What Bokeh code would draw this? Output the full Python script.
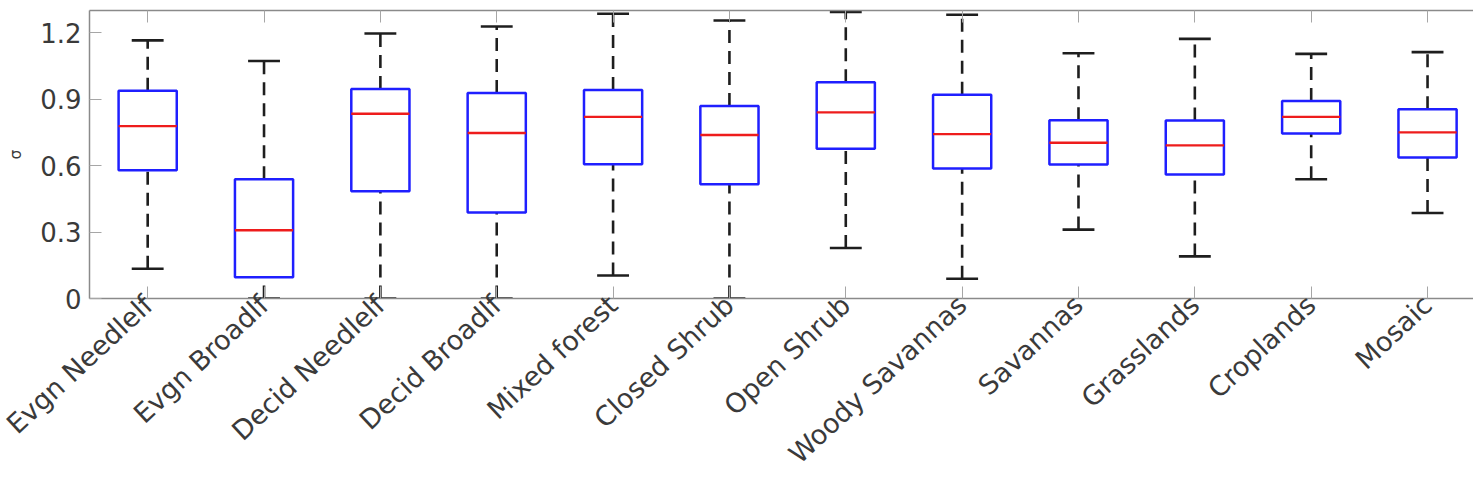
from math import radians
from bokeh.plotting import figure
from bokeh.models import Range1d, FixedTicker, LinearAxis, ColumnDataSource
from bokeh.embed import file_html
from bokeh.resources import INLINE

categories = ["Evgn Needlelf", "Evgn Broadlf", "Decid Needlelf", "Decid Broadlf",
              "Mixed forest", "Closed Shrub", "Open Shrub", "Woody Savannas",
              "Savannas", "Grasslands", "Croplands", "Mosaic"]
upper_whisker = [1.165, 1.072, 1.196, 1.228, 1.285, 1.255, 1.293, 1.281, 1.107, 1.172, 1.104, 1.112]
q3 = [0.938, 0.538, 0.946, 0.928, 0.941, 0.869, 0.976, 0.920, 0.805, 0.804, 0.891, 0.854]
median = [0.778, 0.308, 0.834, 0.747, 0.820, 0.738, 0.840, 0.742, 0.703, 0.691, 0.820, 0.750]
q1 = [0.579, 0.096, 0.484, 0.388, 0.606, 0.516, 0.676, 0.587, 0.605, 0.560, 0.745, 0.637]
lower_whisker = [0.134, 0.0, 0.0, 0.0, 0.104, 0.0, 0.228, 0.089, 0.311, 0.190, 0.538, 0.386]
y_ticks = [0, 0.3, 0.6, 0.9, 1.2]
y_tick_labels = ["0", "0.3", "0.6", "0.9", "1.2"]
y_label = "σ"

xs = list(range(1, len(categories) + 1))
box_half = 0.25
cap_half = 0.137

src = ColumnDataSource(dict(
    x=xs,
    left=[v - box_half for v in xs], right=[v + box_half for v in xs],
    cap_l=[v - cap_half for v in xs], cap_r=[v + cap_half for v in xs],
    uw=upper_whisker, q3=q3, med=median, q1=q1, lw=lower_whisker,
))

AX = "#8a8a8a"
TK = "#a6a6a6"
TXT = "#3a3a3a"
FONT = "DejaVu Sans"

p = figure(width=1473, height=492, output_backend="svg", toolbar_location=None,
           x_range=Range1d(0.5, 12.395), y_range=Range1d(0, 1.3),
           min_border_left=89, min_border_right=0, min_border_top=10, min_border_bottom=194,
           x_axis_location="below", y_axis_location="left")
p.outline_line_color = None
p.xgrid.visible = False
p.ygrid.visible = False
p.background_fill_color = "white"

WH = "#1e1e1e"
# whiskers (dashed)
p.segment(x0="x", y0="q3", x1="x", y1="uw", source=src, line_color=WH,
          line_width=2.6, line_dash="13 8")
p.segment(x0="x", y0="lw", x1="x", y1="q1", source=src, line_color=WH,
          line_width=2.6, line_dash="13 8")
# caps
p.segment(x0="cap_l", y0="uw", x1="cap_r", y1="uw", source=src, line_color=WH, line_width=2.6)
p.segment(x0="cap_l", y0="lw", x1="cap_r", y1="lw", source=src, line_color=WH, line_width=2.6)
# boxes
p.quad(left="left", right="right", bottom="q1", top="q3", source=src,
       fill_color="white", line_color="#1f1fff", line_width=2.5)
# medians
p.segment(x0="left", y0="med", x1="right", y1="med", source=src, line_color="#ee1c1c", line_width=2.4)

# x axis (below)
xa = p.xaxis[0]
xa.ticker = FixedTicker(ticks=xs)
xa.major_label_overrides = {v: c for v, c in zip(xs, categories)}
xa.major_label_orientation = radians(43)
xa.major_label_text_font = FONT
xa.major_label_text_font_size = "27px"
xa.major_label_text_color = TXT
xa.major_label_standoff = 2
xa.axis_line_color = AX
xa.axis_line_width = 1.5
xa.major_tick_line_color = TK
xa.major_tick_in = 12
xa.major_tick_out = 0
xa.minor_tick_line_color = None

# y axis (left)
ya = p.yaxis[0]
ya.ticker = FixedTicker(ticks=y_ticks)
ya.major_label_overrides = {v: s for v, s in zip(y_ticks, y_tick_labels)}
ya.major_label_text_font = FONT
ya.major_label_text_font_size = "26px"
ya.major_label_text_color = TXT
ya.major_label_standoff = 8
ya.axis_line_color = AX
ya.axis_line_width = 1.5
ya.major_tick_line_color = TK
ya.major_tick_in = 12
ya.major_tick_out = 0
ya.minor_tick_line_color = None
ya.axis_label = y_label
ya.axis_label_text_font = FONT
ya.axis_label_text_font_size = "15px"
ya.axis_label_text_font_style = "normal"
ya.axis_label_text_color = TXT
ya.axis_label_standoff = 12

# top axis: line + inward ticks, labels not drawn
ta = LinearAxis(ticker=FixedTicker(ticks=xs))
ta.axis_line_color = AX
ta.axis_line_width = 1.5
ta.major_label_text_color = None
ta.major_label_text_font_size = "1px"
ta.major_label_standoff = 0
ta.major_tick_line_color = TK
ta.major_tick_in = 12
ta.major_tick_out = 0
ta.minor_tick_line_color = None
p.add_layout(ta, "above")

open("out.html", "w").write(file_html(p, INLINE))
